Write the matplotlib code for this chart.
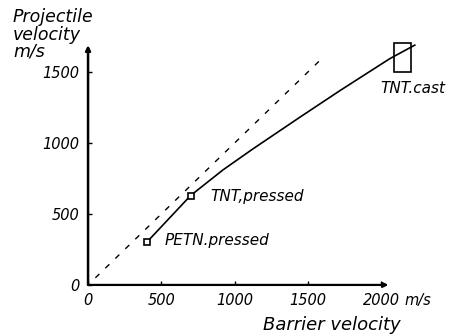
import matplotlib
matplotlib.use("Agg")
import matplotlib.pyplot as plt
from matplotlib.patches import Rectangle

# curve (barrier velocity, projectile velocity), m/s
curve_x = [400, 700, 920, 1120, 1450, 1720, 2060, 2230]
curve_y = [300, 630, 810, 955, 1185, 1370, 1595, 1690]

# y = x reference line
ref_x = [50, 1600]
ref_y = [50, 1600]

# measured points
pt_names = ["PETN.pressed", "TNT,pressed"]
pt_x = [400, 700]
pt_y = [300, 630]
pt_label_x = [525, 832]
pt_label_y = [310, 620]

# cast TNT range (box)
cast_x = [2087, 2203]
cast_y = [1500, 1704]

xticks = [0, 500, 1000, 1500, 2000]
yticks = [0, 500, 1000, 1500]

plt.rcParams['font.family'] = ['DejaVu Sans']
plt.rcParams['font.style'] = 'italic'

fig = plt.figure(figsize=(4.61, 3.36), dpi=100)
ax = fig.add_axes([0.191, 0.152, 0.731, 0.739])
ax.set_xlim(0, 2300)
ax.set_ylim(0, 1750)

for s in ax.spines.values():
    s.set_visible(False)

# axes with arrow heads
ax.annotate("", xy=(2050, 0), xytext=(0, 0),
            arrowprops=dict(arrowstyle="-|>", lw=1.6, color="black",
                            mutation_scale=7, shrinkA=0, shrinkB=0))
ax.annotate("", xy=(0, 1690), xytext=(0, 0),
            arrowprops=dict(arrowstyle="-|>", lw=1.8, color="black",
                            mutation_scale=7, shrinkA=0, shrinkB=0))

ax.set_xticks(xticks)
ax.set_yticks(yticks)
ax.set_xticklabels([str(v) for v in xticks])
ax.set_yticklabels([str(v) for v in yticks])
ax.tick_params(direction='in', length=3, width=1, labelsize=10.5, pad=6)

ax.plot(ref_x, ref_y, color="black", lw=1, ls=(0, (4, 6)))
ax.plot(curve_x, curve_y, color="black", lw=1.2)
ax.plot(pt_x, pt_y, ls="none", marker="s", ms=4, mfc="white", mec="black", mew=1.2)

for name, tx, ty in zip(pt_names, pt_label_x, pt_label_y):
    ax.text(tx, ty, name, fontsize=11, va="center", ha="left")

ax.add_patch(Rectangle((cast_x[0], cast_y[0]), cast_x[1] - cast_x[0],
                       cast_y[1] - cast_y[0], fill=False, lw=1.2,
                       ec="black", clip_on=False))
ax.text(1992, 1387, "TNT.cast", fontsize=11, va="center", ha="left")

ax.text(2162, -110, "m/s", fontsize=10.5, va="center", ha="left", clip_on=False)
ax.text(1194, -285, "Barrier velocity", fontsize=13, va="center", ha="left",
        clip_on=False)
fig.text(0.028, 0.975, "Projectile\nvelocity\nm/s", fontsize=12.5, va="top",
         ha="left", linespacing=0.95)

fig.savefig("out.png", dpi=100)
